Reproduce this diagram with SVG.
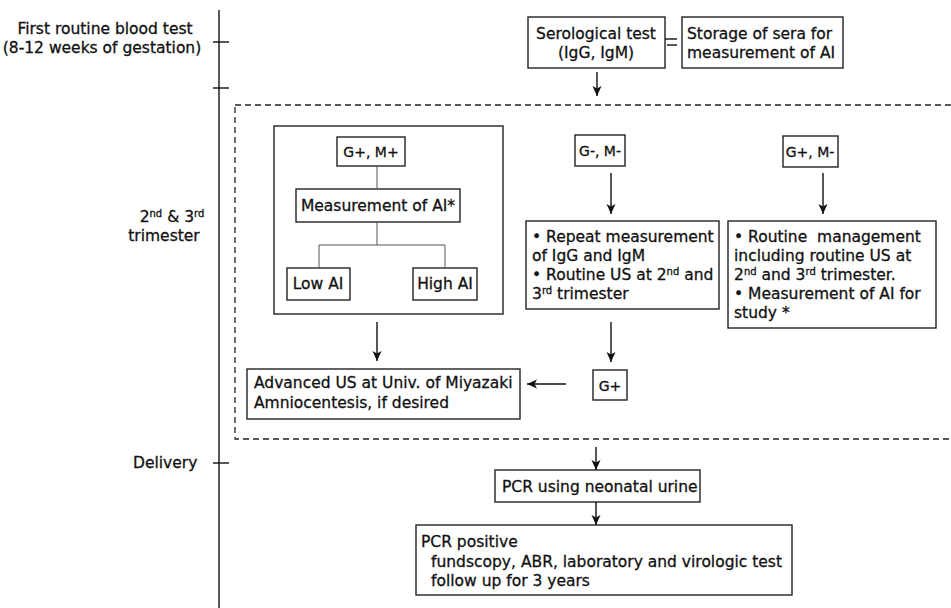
<svg xmlns="http://www.w3.org/2000/svg" width="951" height="608" viewBox="0 0 951 608">
<defs>
<marker id="ah" viewBox="0 0 10 10" refX="10" refY="5" markerWidth="10" markerHeight="10" markerUnits="userSpaceOnUse" orient="auto">
<path d="M0,0.5 L10,5 L0,9.5 L2.5,5 z" fill="#111"/>
</marker>
<style>
text{font-family:"DejaVu Sans","Liberation Sans",sans-serif;font-size:15.5px;fill:#111;stroke:#111;stroke-width:0.3}
.g{font-size:14px}
.box{fill:#fff;stroke:#222;stroke-width:1.4}
.ln{stroke:#111;stroke-width:1.4;fill:none}
.thin{stroke:#555;stroke-width:1;fill:none}
.arr{stroke:#111;stroke-width:1.4;fill:none;marker-end:url(#ah)}
.dash{fill:none;stroke:#222;stroke-width:1.3;stroke-dasharray:6,4}
.c{text-anchor:middle}
.sup{font-size:10px}
</style>
</defs>
<rect width="951" height="608" fill="#fff"/>

<g id="timeline">
<line class="ln" x1="219" y1="10" x2="219" y2="608"/>
<line class="ln" x1="213" y1="42" x2="229" y2="42"/>
<line class="ln" x1="213" y1="88" x2="229" y2="88"/>
<line class="ln" x1="213" y1="463" x2="229" y2="463"/>
<text class="c" x="105" y="34">First routine blood test</text>
<text class="c" x="102" y="53">(8-12 weeks of gestation)</text>
<text class="c" x="172" y="222">2<tspan class="sup" dy="-5">nd</tspan><tspan dy="5"> &amp; 3</tspan><tspan class="sup" dy="-5">rd</tspan></text>
<text class="c" x="164" y="241">trimester</text>
<text x="133" y="468">Delivery</text>
</g>

<g id="region">
<rect class="dash" x="235" y="105" width="730" height="334"/>
</g>

<g id="serological">
<rect class="box" x="528" y="17" width="137" height="51"/>
<text class="c" x="596" y="39">Serological test</text>
<text class="c" x="596" y="58">(IgG, IgM)</text>
</g>
<g id="storage">
<rect class="box" x="682" y="17" width="161" height="51"/>
<text x="687" y="39">Storage of sera for</text>
<text x="687" y="58">measurement of AI</text>
</g>

<g id="gpmp-group">
<rect class="box" x="274" y="126" width="229" height="188"/>
</g>
<g id="gpmp">
<rect class="box" x="337" y="137" width="68" height="29"/>
<text class="c g" x="371" y="157">G+, M+</text>
</g>
<g id="measureAI">
<rect class="box" x="296" y="189" width="164" height="33"/>
<text class="c" x="378" y="211">Measurement of AI*</text>
</g>
<g id="lowAI">
<rect class="box" x="287" y="268" width="63" height="32"/>
<text class="c" x="318" y="289">Low AI</text>
</g>
<g id="highAI">
<rect class="box" x="413" y="268" width="64" height="32"/>
<text class="c" x="445" y="289">High AI</text>
</g>

<g id="gmmm">
<rect class="box" x="575" y="135" width="50" height="31"/>
<text class="c g" x="600" y="156">G-, M-</text>
</g>
<g id="repeat">
<rect class="box" x="526" y="221" width="193" height="88"/>
<text x="532" y="242">• Repeat measurement</text>
<text x="532" y="261">of IgG and IgM</text>
<text x="532" y="280">• Routine US at 2<tspan class="sup" dy="-5">nd</tspan><tspan dy="5"> and</tspan></text>
<text x="532" y="299">3<tspan class="sup" dy="-5">rd</tspan><tspan dy="5"> trimester</tspan></text>
</g>

<g id="gpmm">
<rect class="box" x="783" y="136" width="55" height="31"/>
<text class="c g" x="810" y="157">G+, M-</text>
</g>
<g id="routine">
<rect class="box" x="728" y="221" width="208" height="107"/>
<text x="734" y="242" xml:space="preserve">• Routine  management</text>
<text x="734" y="261">including routine US at</text>
<text x="734" y="280">2<tspan class="sup" dy="-5">nd</tspan><tspan dy="5"> and 3</tspan><tspan class="sup" dy="-5">rd</tspan><tspan dy="5"> trimester.</tspan></text>
<text x="734" y="299">• Measurement of AI for</text>
<text x="734" y="318">study *</text>
</g>

<g id="gplus">
<rect class="box" x="593" y="370" width="34" height="30"/>
<text class="c g" x="610" y="391">G+</text>
</g>
<g id="advanced">
<rect class="box" x="247" y="369" width="273" height="50"/>
<text x="254" y="388">Advanced US at Univ. of Miyazaki</text>
<text x="254" y="408">Amniocentesis, if desired</text>
</g>

<g id="pcr">
<rect class="box" x="495" y="470" width="205" height="32"/>
<text x="502" y="492">PCR using neonatal urine</text>
</g>
<g id="pcrpos">
<rect class="box" x="416" y="525" width="376" height="70"/>
<text x="421" y="547">PCR positive</text>
<text x="431" y="567">fundscopy, ABR, laboratory and virologic test</text>
<text x="431" y="586">follow up for 3 years</text>
</g>

<g id="connectors">
<line class="ln" x1="665" y1="39" x2="677" y2="39"/>
<line class="ln" x1="667" y1="45" x2="677" y2="45"/>
<line class="arr" x1="597" y1="72" x2="597" y2="96"/>
<line class="thin" x1="377" y1="166" x2="377" y2="189"/>
<line class="thin" x1="377" y1="222" x2="377" y2="245"/>
<polyline class="thin" points="319,268 319,245 445,245 445,268"/>
<line class="arr" x1="377" y1="322" x2="377" y2="361"/>
<line class="arr" x1="611" y1="173" x2="611" y2="214"/>
<line class="arr" x1="823" y1="173" x2="823" y2="214"/>
<line class="arr" x1="611" y1="322" x2="611" y2="362"/>
<line class="arr" x1="566" y1="384" x2="527" y2="384"/>
<line class="arr" x1="596" y1="447" x2="596" y2="470"/>
<line class="arr" x1="596" y1="502" x2="596" y2="525"/>
</g>
</svg>
